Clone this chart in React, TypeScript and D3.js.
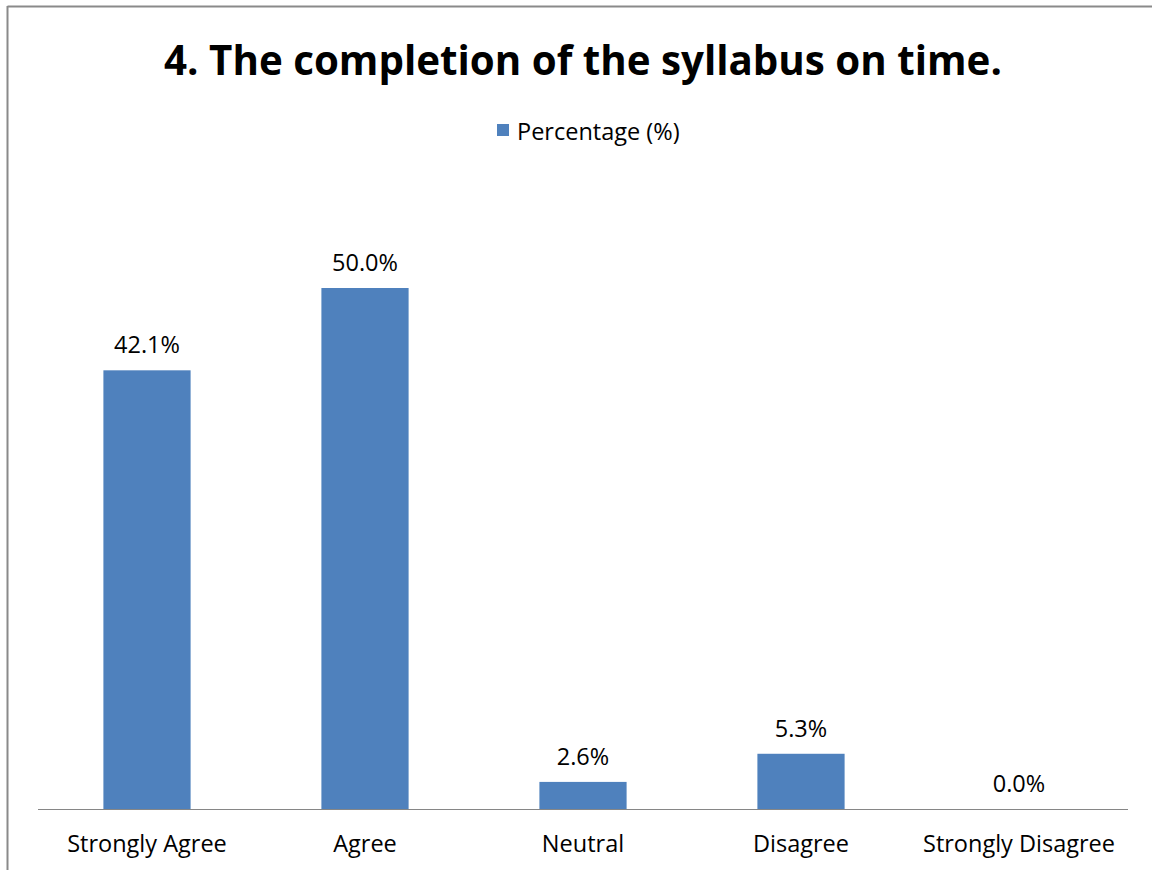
import React from "react";
import * as d3 from "d3";

const categories = ["Strongly Agree", "Agree", "Neutral", "Disagree", "Strongly Disagree"];
const values = [42.1, 50.0, 2.6, 5.3, 0.0];
const seriesName = "Percentage (%)";
const title = "4. The completion of the syllabus on time.";

const W = 1152;
const H = 870;
const FONT = "'Open Sans', 'Noto Sans', 'DejaVu Sans', sans-serif";

export default function App() {
  const x0 = 38, x1 = 1128, baseY = 809;
  const x = d3.scaleBand<string>().domain(categories).range([x0, x1]).paddingInner(0.6).paddingOuter(0.3);
  const y = d3.scaleLinear().domain([0, 60]).range([baseY, baseY - 625.2]);
  const bw = x.bandwidth();
  return (
    <svg width={W} height={H} style={{ position: "absolute", left: 0, top: 0, background: "#fff" }} fontFamily={FONT}>
      <rect x={0} y={0} width={W} height={H} fill="#fff" />
      <line x1={7.5} y1={6.5} x2={W} y2={6.5} stroke="#8a8a8a" strokeWidth={2} />
      <line x1={7.5} y1={6} x2={7.5} y2={H} stroke="#8a8a8a" strokeWidth={2} />
      <text x={583} y={75} textAnchor="middle" fontSize={40.3} fontWeight="bold" fill="#000">{title}</text>
      <rect x={497} y={124} width={12} height={12} fill="#4f81bd" />
      <text x={517} y={140} fontSize={23.5} fill="#000">{seriesName}</text>
      {categories.map((c, i) => (
        <g key={c}>
          <rect x={x(c)!} y={y(values[i])} width={bw} height={baseY - y(values[i])} fill="#4f81bd" />
          <text x={x(c)! + bw / 2} y={y(values[i]) - 17} textAnchor="middle" fontSize={23.5} fill="#000">
            {values[i].toFixed(1) + "%"}
          </text>
          <text x={x(c)! + bw / 2} y={852} textAnchor="middle" fontSize={23.5} fill="#000">{c}</text>
        </g>
      ))}
      <line x1={x0} y1={baseY + 0.5} x2={x1} y2={baseY + 0.5} stroke="#868686" strokeWidth={1} />
    </svg>
  );
}
